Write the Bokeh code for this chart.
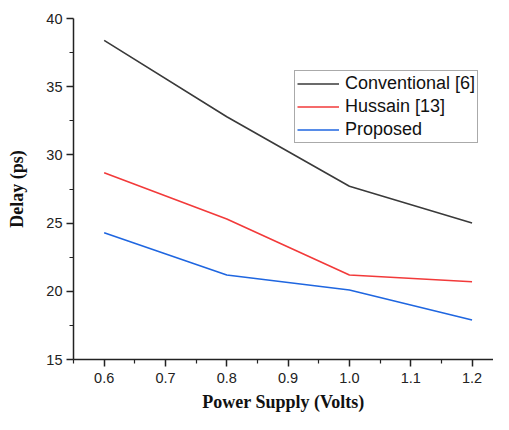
from bokeh.plotting import figure
from bokeh.models import Range1d, Legend, LegendItem, FixedTicker, PrintfTickFormatter
from bokeh.embed import file_html
from bokeh.resources import INLINE

voltage = [0.6, 0.8, 1.0, 1.2]
conventional = [38.4, 32.8, 27.7, 25.0]
hussain = [28.7, 25.3, 21.2, 20.7]
proposed = [24.3, 21.2, 20.1, 17.9]
series_names = ["Conventional [6]", "Hussain [13]", "Proposed"]
x_ticks = [0.6, 0.7, 0.8, 0.9, 1.0, 1.1, 1.2]
x_minor = [0.55, 0.65, 0.75, 0.85, 0.95, 1.05, 1.15]
y_ticks = [15, 20, 25, 30, 35, 40]
y_minor = [17.5, 22.5, 27.5, 32.5, 37.5]

p = figure(width=493, height=414, output_backend="svg", toolbar_location=None,
           x_range=Range1d(0.55, 1.235), y_range=Range1d(15, 40),
           min_border_left=73, min_border_top=18, min_border_bottom=55, min_border_right=0)
p.outline_line_color = None
p.grid.grid_line_color = None
p.background_fill_color = "white"

colors = ["#3a3a3a", "#f23a3a", "#1f66e0"]
renderers = []
for ys, c in zip([conventional, hussain, proposed], colors):
    r = p.line(voltage, ys, line_color=c, line_width=1.6)
    renderers.append(r)

for ax in (p.xaxis[0], p.yaxis[0]):
    ax.axis_line_color = "#222222"
    ax.axis_line_width = 1.5
    ax.major_tick_line_color = "#222222"
    ax.major_tick_line_width = 1.5
    ax.minor_tick_line_color = "#222222"
    ax.minor_tick_line_width = 1.2
    ax.major_tick_out = 7
    ax.major_tick_in = 0
    ax.minor_tick_out = 4
    ax.minor_tick_in = 0
    ax.major_label_text_font = "Liberation Sans"
    ax.major_label_text_font_size = "14.5px"
    ax.major_label_text_color = "#222222"
    ax.axis_label_text_font = "Liberation Serif"
    ax.axis_label_text_font_style = "bold"
    ax.axis_label_text_font_size = "18px"
    ax.axis_label_text_color = "#111111"

p.xaxis[0].ticker = FixedTicker(ticks=x_ticks, minor_ticks=x_minor)
p.xaxis[0].formatter = PrintfTickFormatter(format="%.1f")
p.yaxis[0].ticker = FixedTicker(ticks=y_ticks, minor_ticks=y_minor)
p.xaxis[0].axis_label = "Power Supply (Volts)"
p.yaxis[0].axis_label = "Delay (ps)"
p.xaxis[0].major_label_standoff = 6
p.xaxis[0].axis_label_standoff = 6
p.yaxis[0].major_label_standoff = 4
p.yaxis[0].axis_label_standoff = 16

legend = Legend(items=[LegendItem(label=n, renderers=[r]) for n, r in zip(series_names, renderers)],
                location=(221, 216))
legend.label_text_font = "Liberation Sans"
legend.label_text_font_size = "18px"
legend.label_text_color = "#111111"
legend.border_line_color = "#555555"
legend.border_line_width = 1
legend.glyph_width = 42
legend.glyph_height = 21
legend.label_height = 21
legend.label_standoff = 6
legend.spacing = 2
legend.padding = 2
legend.margin = 0
legend.background_fill_alpha = 1
p.add_layout(legend, "center")

open("out.html", "w").write(file_html(p, INLINE))
